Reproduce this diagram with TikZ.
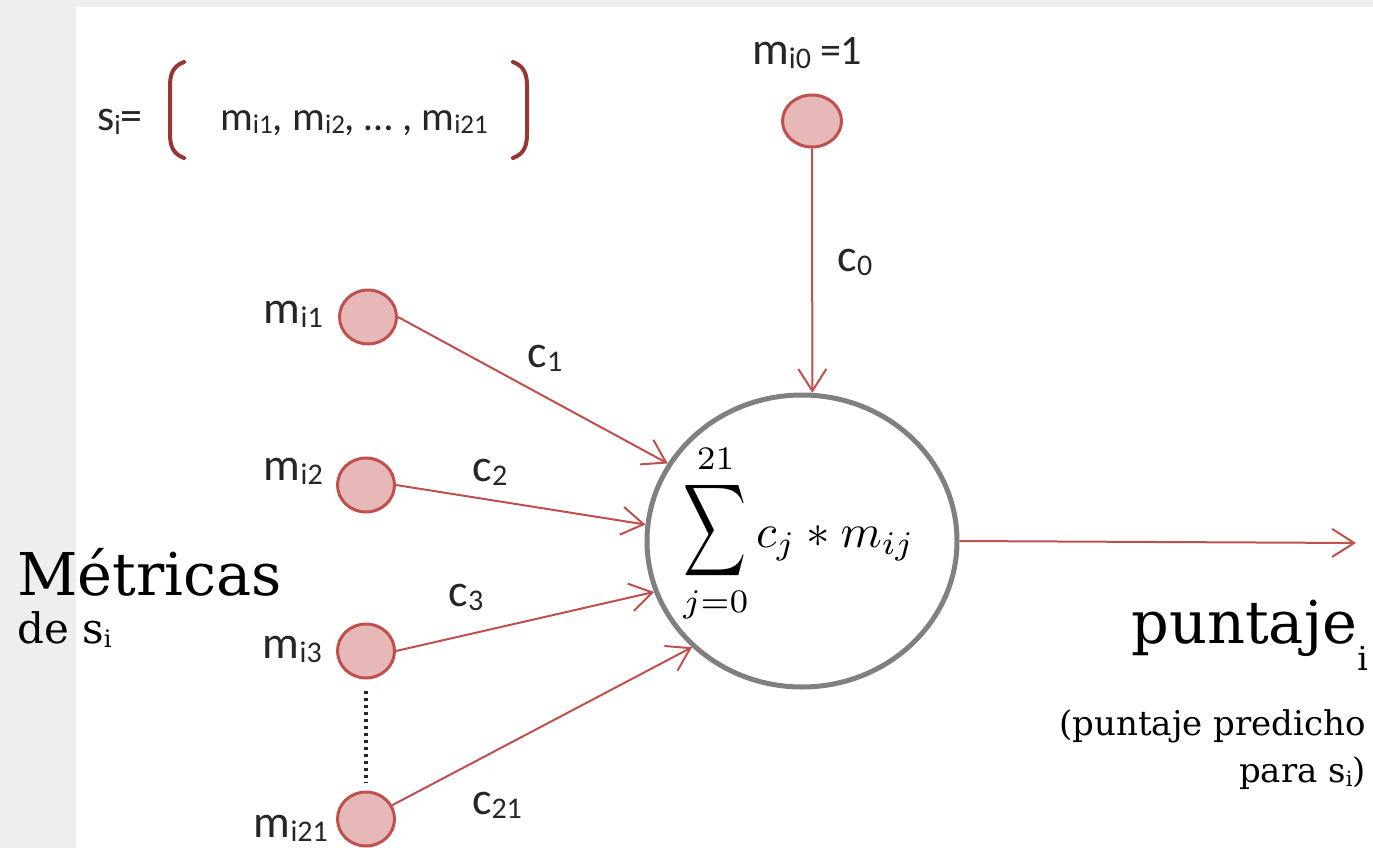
\documentclass[tikz,border=0pt]{standalone}
\usepackage[no-math]{fontspec}
\setmainfont{Carlito}
\newfontfamily\slab{DejaVu Serif}
\usepackage{graphicx}
\usetikzlibrary{shapes.geometric,arrows.meta}
\definecolor{lnred}{HTML}{C0504D}
\definecolor{fillred}{HTML}{E6B9B8}
\definecolor{brk}{HTML}{953735}
\definecolor{bggray}{HTML}{EEEEEE}
\definecolor{sumgray}{HTML}{808080}
\newcommand{\mlab}[1]{m\raisebox{-4pt}{\fontsize{30}{30}\selectfont #1}}
\newcommand{\clab}[1]{c\raisebox{-4pt}{\fontsize{30}{30}\selectfont #1}}
\newcommand{\mrow}[1]{m\raisebox{-3pt}{\fontsize{27}{27}\selectfont #1}}
\begin{document}
\begin{tikzpicture}[x=1pt,y=-1pt,
  inp/.style={ellipse, draw=lnred, fill=fillred, line width=3pt, minimum width=57pt, minimum height=54pt, inner sep=0pt},
  lbl/.style={font=\fontsize{46}{46}\selectfont, inner sep=0pt, text=black!85},
  wire/.style={draw=lnred, line width=2pt, -{Straight Barb[length=22pt,width=28pt,line width=2pt]}},
  slabtxt/.style={font=\slab, inner sep=0pt, text=black}
  ]
\useasboundingbox (0,0) rectangle (1373,848);
\fill[bggray] (0,0) rectangle (1373,848);
\fill[white] (76,7) rectangle (1373,848);

% top row
\node[lbl, anchor=base west, font=\fontsize{44}{44}\selectfont] (si) at (97,131) {s\raisebox{-4pt}{\fontsize{28}{28}\selectfont i}=};
\node[lbl, anchor=base west, font=\fontsize{41}{41}\selectfont] (row) at (220,131) {\mrow{i1}, \mrow{i2}, \dots\ , \mrow{i21}};
\draw[brk, line width=4pt, line cap=round] (184,62) .. controls (173,66) and (170,74) .. (170,86) -- (170,134) .. controls (170,146) and (173,154) .. (184,158);
\draw[brk, line width=4pt, line cap=round] (513,62) .. controls (524,66) and (527,74) .. (527,86) -- (527,134) .. controls (527,146) and (524,154) .. (513,158);

% nodes
\node[inp, minimum width=59pt, minimum height=52pt] (m0) at (812,121) {};
\node[inp] (m1) at (368,317) {};
\node[inp] (m2) at (366,485) {};
\node[inp] (m3) at (366,651) {};
\node[inp] (m21) at (366,819) {};
\node[ellipse, draw=sumgray, line width=5pt, minimum width=310pt, minimum height=292pt, inner sep=0pt] (sum) at (802,541) {};

\node[anchor=base west, inner sep=0pt] (f) at (683,547)
  {\scalebox{4.7}{$\displaystyle \mathop{\scalebox{0.93}[1.37]{$\displaystyle\sum$}}\limits_{j=0}^{21} c_j * m_{ij}$}};

% labels
\node[lbl, anchor=base west] (l0) at (752,65) {\mlab{i0}\hspace{9pt}{\fontsize{42}{42}\selectfont =1}};
\node[lbl, anchor=base east] (l1) at (323,323) {\mlab{i1}};
\node[lbl, anchor=base east] (l2) at (323,480) {\mlab{i2}};
\node[lbl, anchor=base east] (l3) at (322,658) {\mlab{i3}};
\node[lbl, anchor=base east] (l21) at (328,837) {\mlab{i21}};

\node[lbl] (c0) at (855,262) {\clab{0}};
\node[lbl] (c1) at (545,358) {\clab{1}};
\node[lbl] (c2) at (490,472) {\clab{2}};
\node[lbl] (c3) at (466,597) {\clab{3}};
\node[lbl] (c21) at (497,805) {\clab{21}};

% wires
\draw[wire] (m0) -- (sum.86);
\draw[wire] (m1.east) -- (sum.150);
\draw[wire] (m2.east) -- (sum.174);
\draw[wire] (m3.east) -- (sum.199);
\draw[wire] (m21) -- (sum.224);
\coordinate (out) at (1356,543);
\draw[wire] (sum.east) -- (out);
\draw[black!85, line width=3.5pt, dash pattern=on 3pt off 4pt, shorten <=11pt, shorten >=8pt] (m3) -- (m21);

% slab texts
\node[slabtxt, anchor=base west, font=\slab\fontsize{59}{59}\selectfont] (met) at (17,595) {Métricas};
\node[slabtxt, anchor=base west, font=\slab\fontsize{42}{42}\selectfont] (des) at (17,643) {de s\raisebox{-4pt}{\fontsize{24}{24}\selectfont i}};
\node[slabtxt, anchor=base east, font=\slab\fontsize{59}{59}\selectfont] (punt) at (1368,643) {puntaje\raisebox{-27pt}{\fontsize{33}{33}\selectfont i}};
\node[slabtxt, anchor=base east, font=\slab\fontsize{34}{34}\selectfont] (pred) at (1366,735) {(puntaje predicho};
\node[slabtxt, anchor=base east, font=\slab\fontsize{34}{34}\selectfont] (para) at (1366,782) {para s\raisebox{-4pt}{\fontsize{21}{21}\selectfont i})};
\end{tikzpicture}
\end{document}
